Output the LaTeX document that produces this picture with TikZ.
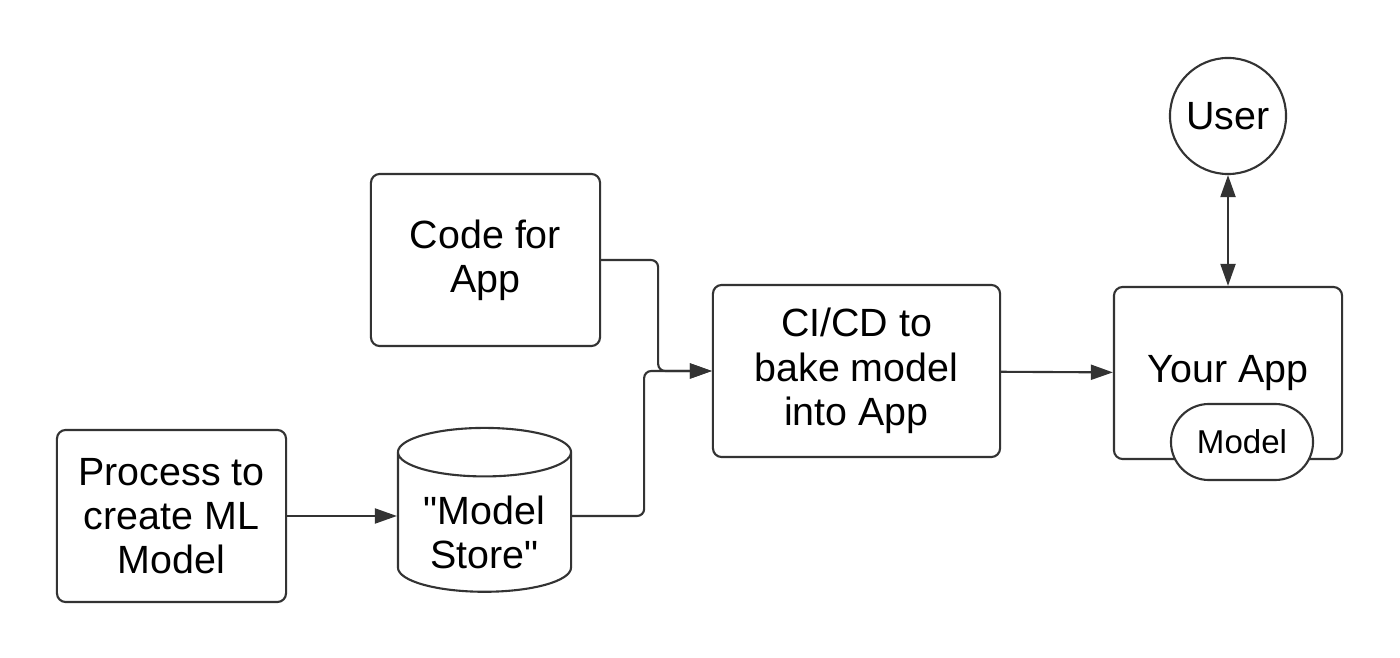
\documentclass[tikz,border=0pt]{standalone}
\usepackage{fontspec}
\setmainfont{Liberation Sans}
\usetikzlibrary{arrows.meta,shapes.geometric,shapes.misc}
\definecolor{linegray}{HTML}{333333}
\tikzset{
  box/.style={draw=linegray, line width=0.6pt, rounded corners=2.5pt, align=center, minimum height=1.72cm, inner sep=0pt},
  link/.style={draw=linegray, line width=0.6pt, rounded corners=2pt, ->},
  >={Triangle[length=2.2mm,width=1.5mm]},
}

\begin{document}
\begin{tikzpicture}[x=0.01cm, y=-0.01cm, font=\fontsize{11.2}{12.6}\selectfont]
			%%%%% START %%%%%
			\useasboundingbox (0,0) rectangle (1400,658);
			
			\node[box, minimum width=2.29cm] (process) at (171.5, 516) {Process to\\create ML\\Model};
			\node[draw=linegray, line width=0.6pt, cylinder, shape border rotate=90, aspect=0.4, minimum width=1.73cm, minimum height=1.63cm, inner sep=0pt] (store) at (484.5, 522.5)
				{\raisebox{-0.25cm}[0.45cm][0.45cm]{\begin{tabular}{@{}c@{}}\textquotedbl Model\\Store\textquotedbl\end{tabular}}};
			\node[box, minimum width=2.29cm] (code) at (485.5, 260) {Code for\\App};
			\node[box, minimum width=2.87cm] (cicd) at (856.5, 371) {CI/CD to\\bake model\\into App};
			\node[box, minimum width=2.28cm] (app) at (1228, 373) {Your App};
			\node[draw=linegray, line width=0.6pt, fill=white, rounded rectangle, minimum width=1.42cm, minimum height=0.76cm, inner sep=0pt, font=\fontsize{9.4}{11}\selectfont] (model) at (1242, 442) {Model};
			\node[draw=linegray, line width=0.6pt, circle, minimum size=1.16cm, inner sep=0pt] (user) at (1228, 116) {User};
			
			\draw[link] (process.east) -- (process.east -| store.west);
			\draw[link] (code.east) -- ++(57,0) |- (cicd.west);
			\draw[link] (process.east -| store.east) -- ++(72,0) |- (cicd.west);
			\draw[link] (cicd) -- (app);
			\draw[link, <->] (user) -- (app);
			
			%%%%% END %%%%%
		\end{tikzpicture}
\end{document}
